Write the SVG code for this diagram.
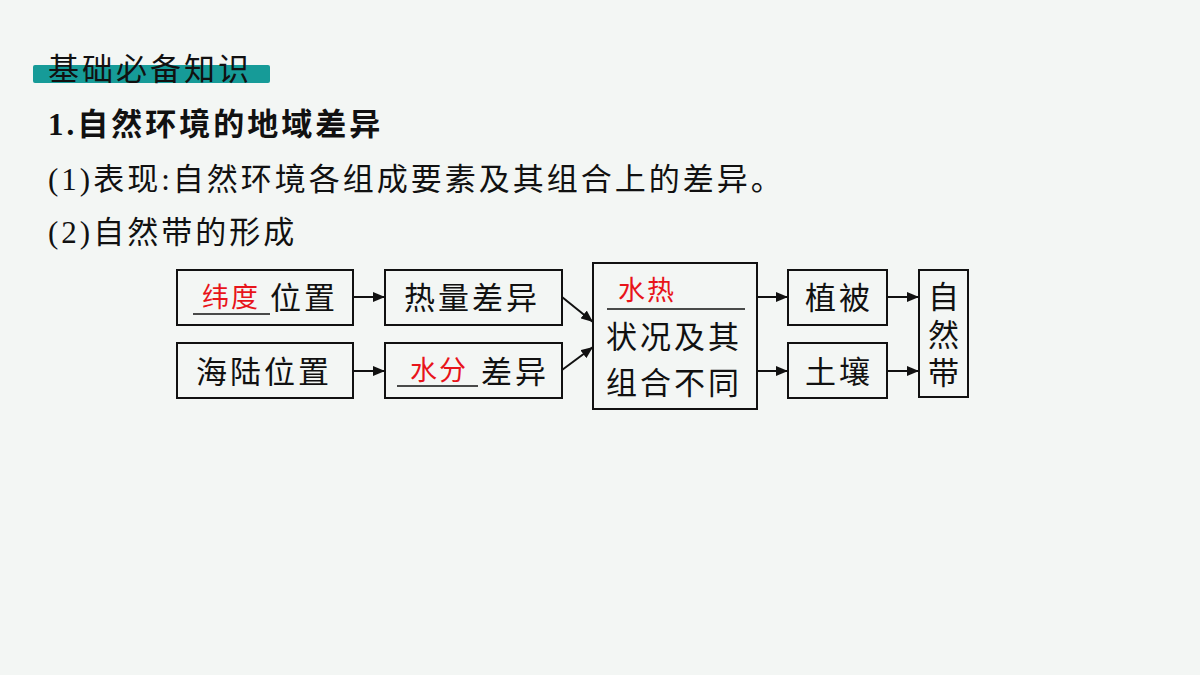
<svg xmlns="http://www.w3.org/2000/svg" width="1200" height="675" viewBox="0 0 1200 675">
<style>
text{font-family:"Liberation Serif","Noto Sans CJK SC",serif;fill:#111}
.t{font-size:31px;letter-spacing:3px}
.b{fill:none;stroke:#111;stroke-width:2}
.n{font-size:31px;letter-spacing:3px}
.r{fill:#e8141a;font-size:27px;letter-spacing:2px}
.c line{stroke:#111;stroke-width:2;marker-end:url(#a)}
</style>
<defs><marker id="a" markerWidth="12" markerHeight="10" refX="12" refY="5" orient="auto" markerUnits="userSpaceOnUse"><path d="M0,0L12,5L0,10z" fill="#111"/></marker></defs>
<rect width="1200" height="675" fill="#f3f6f4"/>
<rect x="33" y="65" width="237" height="18" rx="2" fill="#169b98"/>
<text class="t" x="48" y="80">基础必备知识</text>
<text class="t" x="48" y="135" font-weight="bold">1.自然环境的地域差异</text>
<text class="t" x="48" y="190">(1)表现:自然环境各组成要素及其组合上的差异。</text>
<text class="t" x="48" y="243">(2)自然带的形成</text>
<g id="n1"><rect class="b" x="177" y="270" width="176" height="55"/><line x1="193" y1="314" x2="270" y2="314" stroke="#111" stroke-width="1.5"/><text class="r" x="202" y="307">纬度</text><text class="n" x="270" y="309">位置</text></g>
<g id="n2"><rect class="b" x="385" y="270" width="177" height="55"/><text class="n" x="404" y="309">热量差异</text></g>
<g id="n3"><rect class="b" x="177" y="343" width="176" height="55"/><text class="n" x="196" y="383">海陆位置</text></g>
<g id="n4"><rect class="b" x="385" y="343" width="177" height="55"/><line x1="397" y1="386" x2="478" y2="386" stroke="#111" stroke-width="1.5"/><text class="r" x="410" y="380">水分</text><text class="n" x="481" y="383">差异</text></g>
<g id="n5"><rect class="b" x="593" y="263" width="164" height="146"/><line x1="607" y1="309" x2="745" y2="309" stroke="#111" stroke-width="1.5"/><text class="r" x="618" y="300">水热</text><text class="n" x="606" y="348">状况及其</text><text class="n" x="606" y="394">组合不同</text></g>
<g id="n6"><rect class="b" x="788" y="270" width="99" height="55"/><text class="n" x="805" y="309">植被</text></g>
<g id="n7"><rect class="b" x="788" y="343" width="99" height="55"/><text class="n" x="805" y="383">土壤</text></g>
<g id="n8"><rect class="b" x="919" y="270" width="49" height="127"/><text class="n" x="928" y="308">自</text><text class="n" x="928" y="346">然</text><text class="n" x="928" y="384">带</text></g>
<g class="c">
<line x1="353" y1="297" x2="385" y2="297"/>
<line x1="353" y1="371" x2="385" y2="371"/>
<line x1="562" y1="297" x2="593" y2="322"/>
<line x1="562" y1="370" x2="593" y2="347"/>
<line x1="757" y1="297" x2="788" y2="297"/>
<line x1="757" y1="371" x2="788" y2="371"/>
<line x1="887" y1="297" x2="919" y2="297"/>
<line x1="887" y1="371" x2="919" y2="371"/>
</g>
</svg>
